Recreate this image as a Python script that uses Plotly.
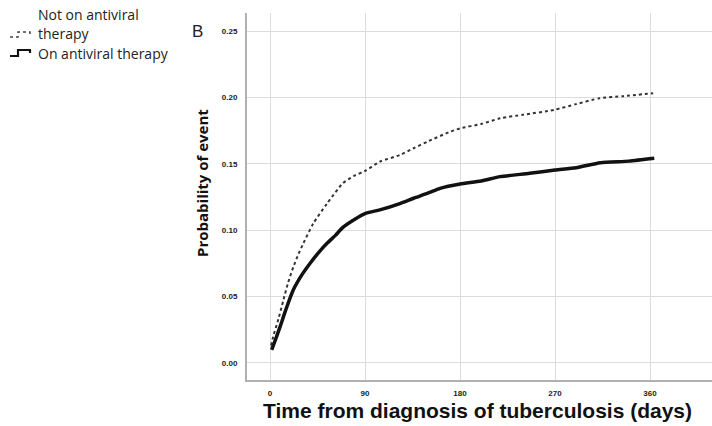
import plotly.graph_objects as go

# Cumulative incidence by antiviral therapy status
days_off = [1, 3, 8, 12.6, 17, 22, 27, 31.6, 41, 54, 69, 80, 91, 104, 123, 136, 150,
            170, 180, 200, 218, 240, 269, 290, 312, 335, 363]
prob_off = [0.013, 0.0196, 0.033, 0.047, 0.060, 0.072, 0.082, 0.090, 0.105, 0.120,
            0.1353, 0.141, 0.145, 0.1516, 0.1566, 0.1617, 0.167, 0.174, 0.1767, 0.180,
            0.1843, 0.187, 0.1906, 0.195, 0.1994, 0.201, 0.2032]

days_on = [1.6, 5, 9.5, 15, 22, 30, 38, 46, 54, 62, 69, 80, 91, 104, 123, 136, 150,
           161, 180, 200, 218, 246, 270, 290, 313, 340, 364]
prob_on = [0.0096, 0.017, 0.027, 0.040, 0.0548, 0.066, 0.075, 0.083, 0.090, 0.096,
           0.102, 0.108, 0.1127, 0.1152, 0.120, 0.124, 0.128, 0.1315, 0.1348, 0.137,
           0.1403, 0.1428, 0.1453, 0.147, 0.1508, 0.152, 0.1541]

x_ticks = [0, 90, 180, 270, 360]
y_ticks = [0.00, 0.05, 0.10, 0.15, 0.20, 0.25]
y_tick_text = ["0.00", "0.05", "0.10", "0.15", "0.20", "0.25"]

W, H = 712, 426
ML, MR, MT, MB = 247, 0, 13, 46

fig = go.Figure()
fig.add_trace(go.Scatter(
    x=days_off, y=prob_off, mode="lines", name="Not on antiviral therapy",
    line=dict(color="#333333", width=2, dash="dot", shape="spline", smoothing=0.6),
    showlegend=False))
fig.add_trace(go.Scatter(
    x=days_on, y=prob_on, mode="lines", name="On antiviral therapy",
    line=dict(color="#111111", width=3.5, shape="spline", smoothing=0.6),
    showlegend=False))

tick_font = dict(family="Liberation Sans Narrow, Liberation Sans, Arial", size=8,
                 color="#222222", weight="bold")

fig.update_xaxes(range=[-21.8, 418.7], tickvals=x_ticks, ticktext=[str(v) for v in x_ticks],
                 showgrid=True, gridcolor="#dcdcdc", gridwidth=1,
                 showline=True, linecolor="#b0b0b0", linewidth=2,
                 zeroline=False, ticks="", tickfont=tick_font, ticklabelstandoff=4)
fig.update_yaxes(range=[-0.01305, 0.2637], tickvals=y_ticks, ticktext=y_tick_text,
                 showgrid=True, gridcolor="#dcdcdc", gridwidth=1,
                 showline=True, linecolor="#b0b0b0", linewidth=2,
                 zeroline=False, ticks="", tickfont=tick_font, ticklabelstandoff=6)


def px_x(px):
    return (px - ML) / (W - ML - MR)


def px_y(py):
    return 1 - (py - MT) / (H - MT - MB)


annotations = [
    dict(text="Time from diagnosis of tuberculosis (days)", x=px_x(477), y=px_y(410),
         xref="paper", yref="paper", showarrow=False, xanchor="center", yanchor="middle",
         font=dict(family="Liberation Sans", size=21, color="#111111", weight="bold")),
    dict(text="Probability of event", x=px_x(202), y=px_y(183),
         xref="paper", yref="paper", showarrow=False, textangle=-90,
         xanchor="center", yanchor="middle",
         font=dict(family="Open Sans", size=15, color="#111111", weight="bold")),
    dict(text="B", x=px_x(197), y=px_y(32), xref="paper", yref="paper", showarrow=False,
         xanchor="center", yanchor="middle",
         font=dict(family="Liberation Sans", size=17, color="#222222")),
    dict(text="Not on antiviral", x=px_x(36), y=px_y(15), xref="paper", yref="paper",
         showarrow=False, xanchor="left", yanchor="middle", align="left",
         font=dict(family="Open Sans", size=14, color="#222222")),
    dict(text="therapy", x=px_x(36), y=px_y(33), xref="paper", yref="paper",
         showarrow=False, xanchor="left", yanchor="middle", align="left",
         font=dict(family="Open Sans", size=14, color="#222222")),
    dict(text="On antiviral therapy", x=px_x(36), y=px_y(54), xref="paper", yref="paper",
         showarrow=False, xanchor="left", yanchor="middle", align="left",
         font=dict(family="Open Sans", size=14, color="#222222")),
]

# step-shaped legend keys
def step_path(x0, x1, ylow, yhigh):
    xm = (x0 + x1) / 2
    pts = [(x0, ylow), (xm - 2, ylow), (xm - 2, yhigh), (x1, yhigh), (x1, yhigh + 3)]
    return "M " + " L ".join(f"{px_x(a)},{px_y(b)}" for a, b in pts)

shapes = [
    dict(type="path", path=step_path(10, 30, 37, 32), xref="paper", yref="paper",
         line=dict(color="#444444", width=1.5, dash="dot")),
    dict(type="path", path=step_path(10, 30, 56, 50), xref="paper", yref="paper",
         line=dict(color="#111111", width=2.2)),
]

fig.update_layout(width=W, height=H, margin=dict(l=ML, r=MR, t=MT, b=MB),
                  paper_bgcolor="white", plot_bgcolor="white",
                  annotations=annotations, shapes=shapes)

fig.write_html("out.html")
